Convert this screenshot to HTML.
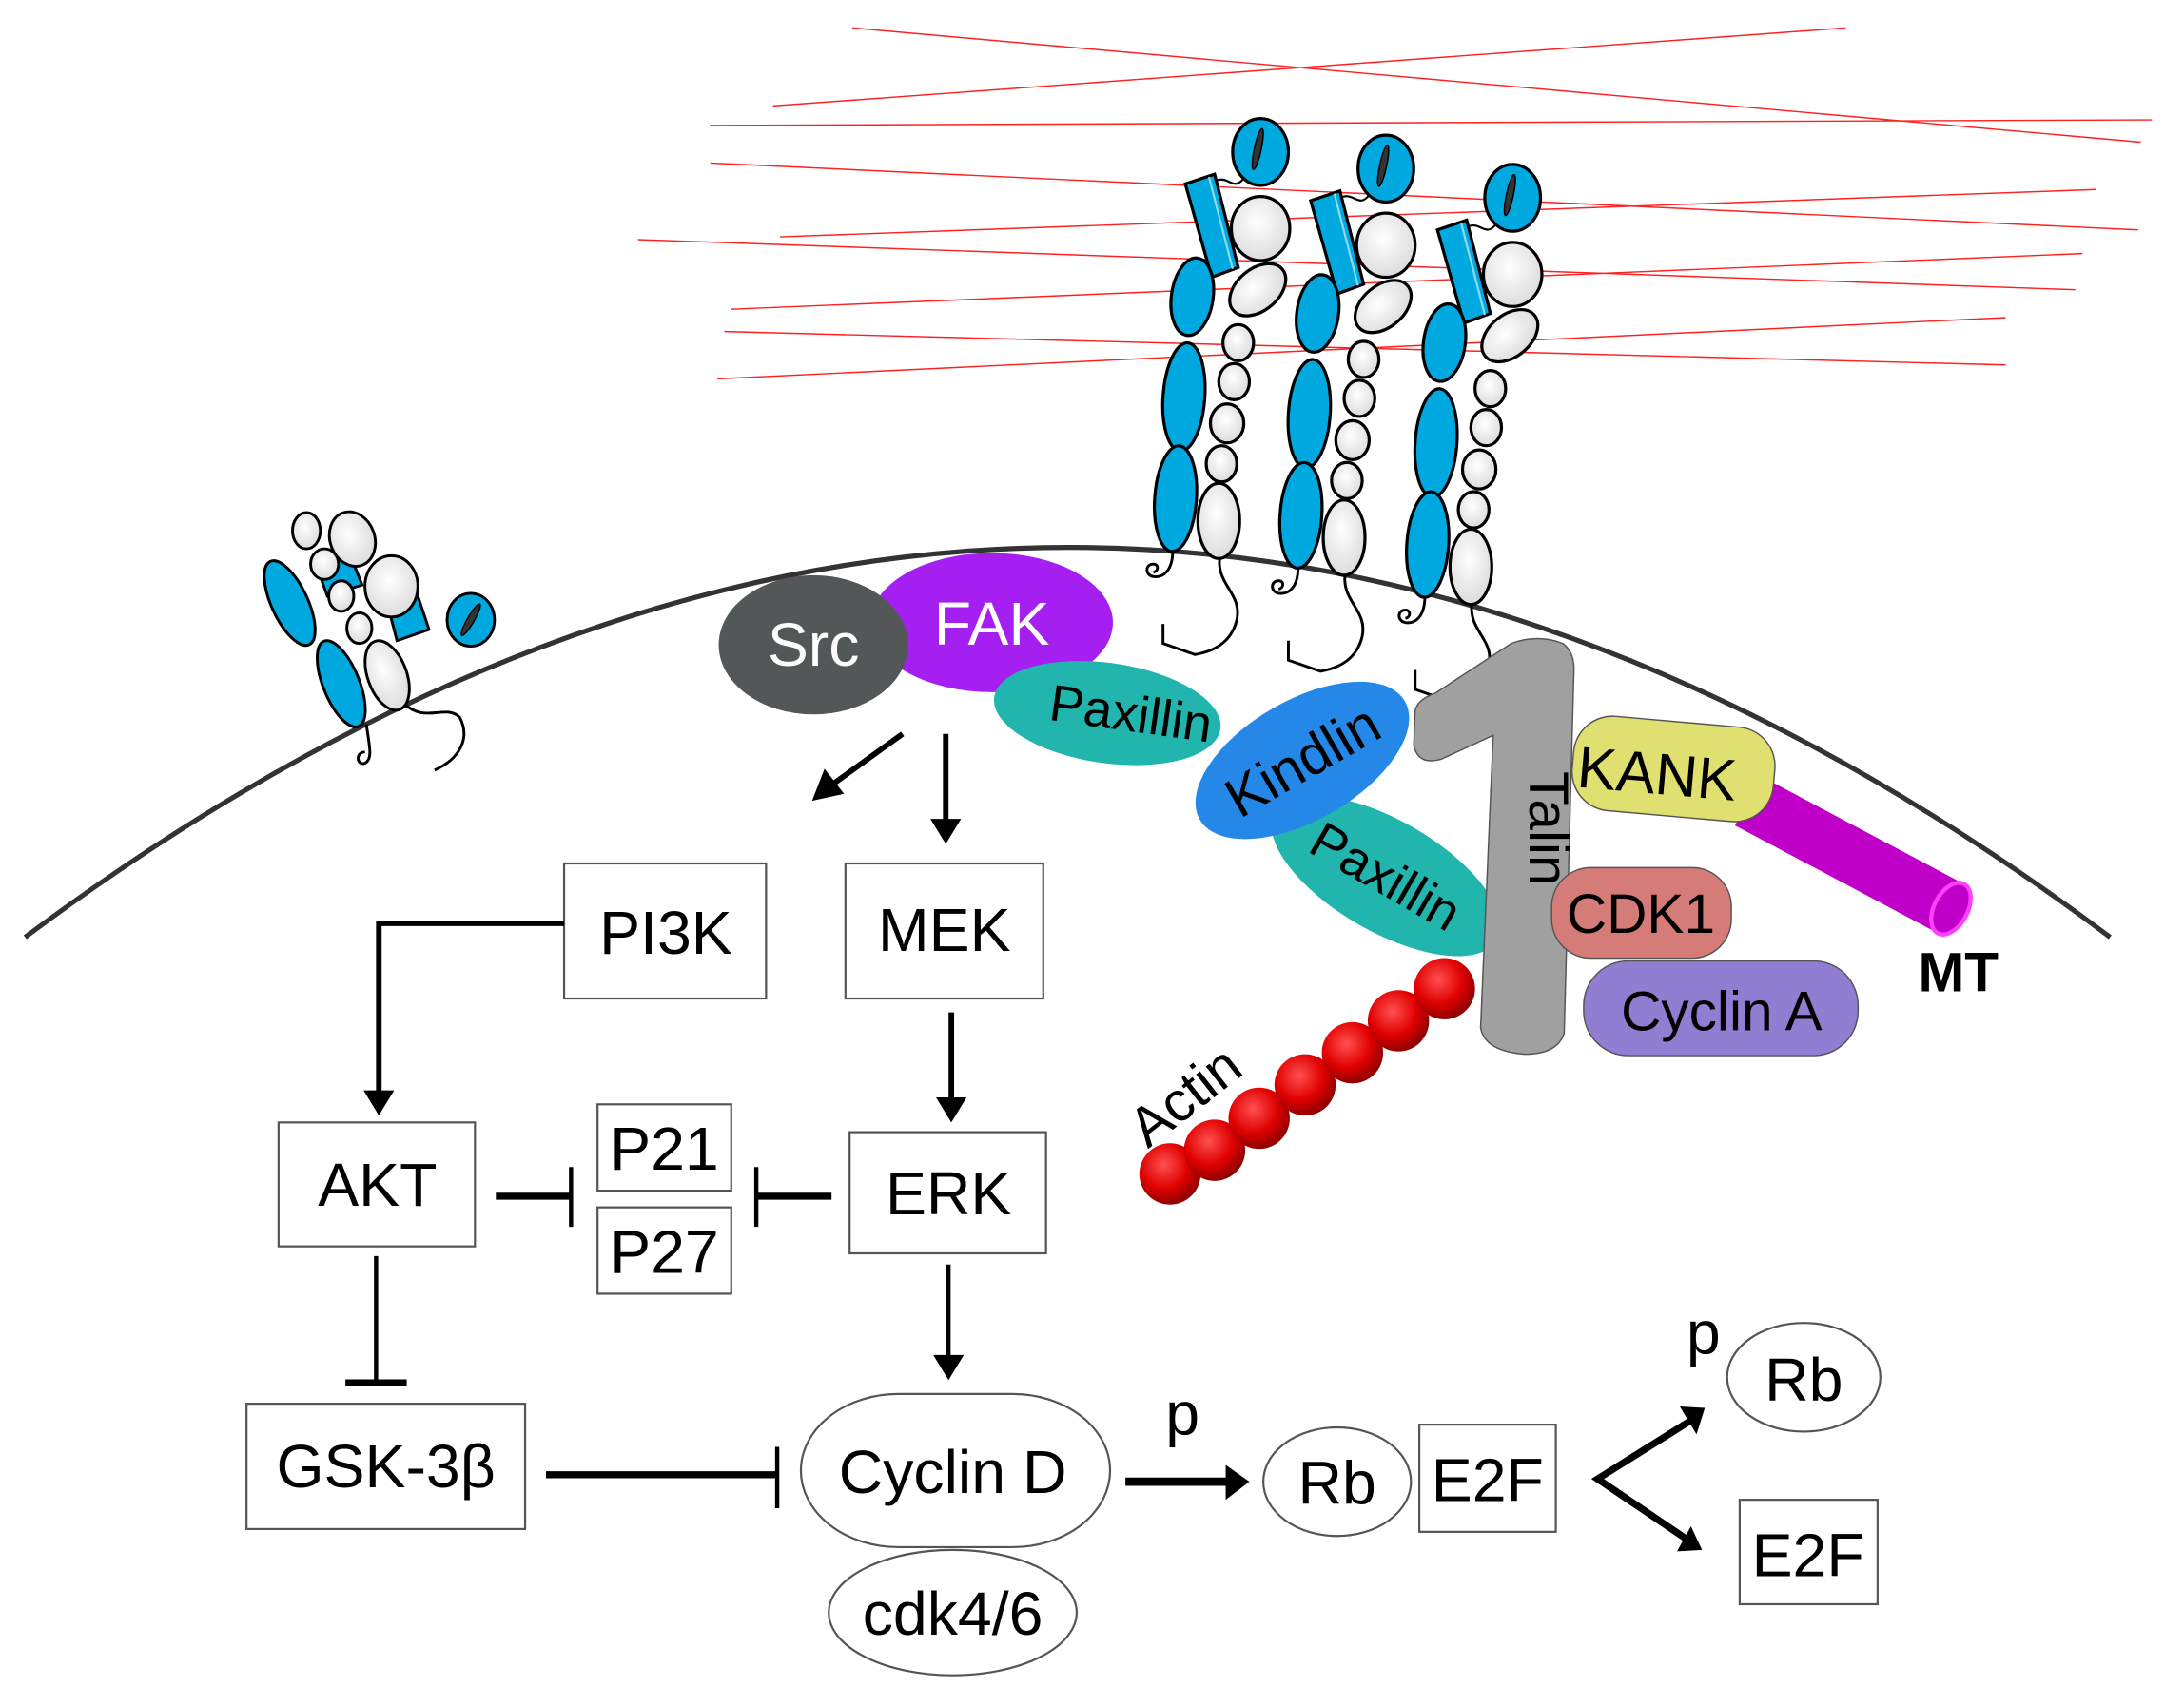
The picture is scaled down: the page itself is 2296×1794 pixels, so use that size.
<!DOCTYPE html>
<html><head><meta charset="utf-8"><style>html,body{margin:0;padding:0;background:#fff}svg{display:block}</style></head>
<body>
<svg width="2296" height="1794" viewBox="0 0 1568 1225" xmlns="http://www.w3.org/2000/svg" font-family="'Liberation Sans', sans-serif">
<defs>
<radialGradient id="wg" cx="45%" cy="40%" r="60%"><stop offset="0" stop-color="#ffffff"/><stop offset="1" stop-color="#dcdcdc"/></radialGradient>
<radialGradient id="rg" cx="40%" cy="35%" r="65%"><stop offset="0" stop-color="#ff5050"/><stop offset="0.6" stop-color="#e00000"/><stop offset="1" stop-color="#900000"/></radialGradient>
<g id="integ" stroke="#000" stroke-width="2.2">
  <path d="M842,395 C842,410 835,415 828,414 C822,413 822,405 828,405 C832,405 832,410 828,411" fill="none" stroke-width="2"/>
  <path d="M876,398 C872,420 892,425 888,445 C884,462 870,468 858,470 L835,462 L835,448" fill="none" stroke-width="2"/>
  <polygon points="851,132 872,125 889,192 870,199" fill="#00a8e0"/>
  <line x1="868" y1="127" x2="885" y2="193" stroke="#8fd8f0" stroke-width="1.5"/>
  <path d="M872,130 C882,125 885,138 893,128" fill="none" stroke-width="1.5"/>
  <ellipse cx="905" cy="109" rx="20" ry="24" fill="#00a8e0"/>
  <ellipse cx="903" cy="107" rx="2.5" ry="15" transform="rotate(12 903 107)" fill="#333" stroke-width="1"/>
  <ellipse cx="905" cy="164" rx="21" ry="23" fill="url(#wg)"/>
  <ellipse cx="903" cy="208" rx="23" ry="15" transform="rotate(-40 903 208)" fill="url(#wg)"/>
  <ellipse cx="889" cy="246" rx="11" ry="13" fill="url(#wg)"/>
  <ellipse cx="886" cy="274" rx="11" ry="13" fill="url(#wg)"/>
  <ellipse cx="881" cy="304" rx="12" ry="14" fill="url(#wg)"/>
  <ellipse cx="877" cy="333" rx="11" ry="13" fill="url(#wg)"/>
  <ellipse cx="875" cy="374" rx="15" ry="27" fill="url(#wg)"/>
  <ellipse cx="856" cy="213" rx="15" ry="28" transform="rotate(8 856 213)" fill="#00a8e0"/>
  <ellipse cx="850" cy="285" rx="15" ry="39" transform="rotate(4 850 285)" fill="#00a8e0"/>
  <ellipse cx="844" cy="358" rx="15" ry="38" transform="rotate(4 844 358)" fill="#00a8e0"/>
</g>
</defs>
<!-- red lines -->
<g stroke="#ff2020" stroke-width="1">
<line x1="612" y1="20" x2="1537" y2="102"/>
<line x1="555" y1="76" x2="1325" y2="20"/>
<line x1="510" y1="90" x2="1545" y2="86"/>
<line x1="510" y1="117" x2="1535" y2="165"/>
<line x1="560" y1="170" x2="1505" y2="136"/>
<line x1="458" y1="172" x2="1490" y2="208"/>
<line x1="525" y1="222" x2="1495" y2="182"/>
<line x1="515" y1="272" x2="1440" y2="228"/>
<line x1="520" y1="238" x2="1440" y2="262"/>
</g>
<!-- membrane -->
<path d="M18,673 Q768,113 1515,673" fill="none" stroke="#333" stroke-width="3.5"/>
<!-- integrins -->
<use href="#integ"/>
<use href="#integ" transform="translate(90,12)"/>
<use href="#integ" transform="translate(181,33)"/>
<!-- left integrin -->
<g stroke="#000" stroke-width="2">
<path d="M263,520 C265,535 268,545 262,548 C256,550 255,540 262,540" fill="none"/>
<path d="M290,505 C305,520 320,505 330,515 C338,530 330,545 312,553" fill="none"/>
<ellipse cx="208" cy="433" rx="13" ry="33" transform="rotate(-25 208 433)" fill="#00a8e0"/>
<polygon points="278,433 300,428 308,452 285,460" fill="#00a8e0"/>
<path d="M225,400 L250,395 L260,420 L235,428Z" fill="#00a8e0"/>
<ellipse cx="338" cy="445" rx="17" ry="19" fill="#00a8e0"/>
<ellipse cx="338" cy="445" rx="2.5" ry="13" transform="rotate(30 338 445)" fill="#333" stroke-width="1"/>
<ellipse cx="220" cy="381" rx="10" ry="13" fill="url(#wg)"/>
<ellipse cx="253" cy="387" rx="16" ry="20" transform="rotate(-20 253 387)" fill="url(#wg)"/>
<ellipse cx="233" cy="405" rx="10" ry="11" fill="url(#wg)"/>
<ellipse cx="281" cy="421" rx="19" ry="22" fill="url(#wg)"/>
<ellipse cx="245" cy="428" rx="9" ry="11" fill="url(#wg)"/>
<ellipse cx="258" cy="451" rx="9" ry="11" fill="url(#wg)"/>
<ellipse cx="278" cy="485" rx="14" ry="26" transform="rotate(-20 278 485)" fill="url(#wg)"/>
<ellipse cx="245" cy="491" rx="13" ry="33" transform="rotate(-22 245 491)" fill="#00a8e0"/>
</g>
<!-- Src FAK -->
<ellipse cx="712" cy="447" rx="87" ry="50" fill="#a51ff0"/>
<ellipse cx="584" cy="463" rx="68" ry="50" fill="#545757"/>
<text x="584" y="478" font-size="44" fill="#fff" text-anchor="middle">Src</text>
<text x="712" y="463" font-size="44" fill="#fff" text-anchor="middle">FAK</text>
<!-- Paxillin / Kindlin -->
<ellipse cx="795" cy="512" rx="82" ry="36" transform="rotate(8 795 512)" fill="#22b5ae"/>
<text x="812" y="525" font-size="37" text-anchor="middle" transform="rotate(8 812 512)">Paxillin</text>
<ellipse cx="995" cy="629" rx="92" ry="40" transform="rotate(30 995 629)" fill="#22b5ae"/>
<text x="995" y="642" font-size="37" text-anchor="middle" transform="rotate(30 995 629)">Paxillin</text>
<ellipse cx="935" cy="546" rx="85" ry="43" transform="rotate(-30 935 546)" fill="#2588e8"/>
<text x="935" y="560" font-size="40" text-anchor="middle" transform="rotate(-30 935 546)">Kindlin</text>
<!-- MT -->
<g transform="rotate(28 1255 575)">
<rect x="1255" y="555" width="165" height="40" fill="#c000c8"/>
<ellipse cx="1420" cy="575" rx="12" ry="20" fill="#c000c8" stroke="#ff40ff" stroke-width="3"/>
</g>
<!-- KANK -->
<rect x="1129" y="518" width="145" height="68" rx="28" transform="rotate(5 1200 552)" fill="#e0e070" stroke="#555" stroke-width="1"/>
<text x="1190" y="570" font-size="42" text-anchor="middle" transform="rotate(5 1190 552)">KANK</text>
<!-- Talin -->
<path d="M1030,498 L1085,462 Q1104,455 1122,462 Q1130,468 1130,480 L1123,742 Q1118,757 1095,757 Q1066,755 1063,738 L1072,528 L1035,545 Q1018,550 1015,535 L1016,510 Q1018,502 1030,498Z" fill="#a0a0a0" stroke="#555" stroke-width="1"/>
<text x="1098" y="595" font-size="40" text-anchor="middle" transform="rotate(90 1098 595)">Talin</text>
<!-- CDK1, Cyclin A -->
<rect x="1114" y="623" width="129" height="65" rx="28" fill="#d67c78" stroke="#555" stroke-width="1"/>
<text x="1178" y="670" font-size="40" text-anchor="middle">CDK1</text>
<rect x="1137" y="690" width="197" height="68" rx="32" fill="#8f7ed2" stroke="#555" stroke-width="1"/>
<text x="1236" y="740" font-size="40" text-anchor="middle">Cyclin A</text>
<text x="1406" y="712" font-size="40" font-weight="bold" text-anchor="middle">MT</text>
<!-- Actin -->
<g fill="url(#rg)">
<circle cx="840" cy="843" r="22"/><circle cx="872" cy="826" r="22"/><circle cx="904" cy="803" r="22"/>
<circle cx="937" cy="779" r="22"/><circle cx="971" cy="756" r="22"/><circle cx="1004" cy="733" r="22"/><circle cx="1037" cy="710" r="22"/>
</g>
<text x="853" y="800" font-size="40" text-anchor="middle" transform="rotate(-38 853 790)">Actin</text>
<!-- boxes -->
<g fill="#fff" stroke="#555" stroke-width="1.5">
<rect x="405" y="620" width="145" height="97"/>
<rect x="607" y="620" width="142" height="97"/>
<rect x="200" y="806" width="141" height="89"/>
<rect x="429" y="793" width="96" height="62"/>
<rect x="429" y="867" width="96" height="62"/>
<rect x="610" y="813" width="141" height="87"/>
<rect x="177" y="1008" width="200" height="90"/>
<rect x="575" y="1001" width="222" height="110" rx="70" ry="55"/>
<ellipse cx="684" cy="1158" rx="89" ry="45"/>
<ellipse cx="960" cy="1064" rx="53" ry="39"/>
<rect x="1019" y="1023" width="98" height="77"/>
<ellipse cx="1295" cy="989" rx="55" ry="39"/>
<rect x="1249" y="1077" width="99" height="75"/>
</g>
<g font-size="44" text-anchor="middle">
<text x="478" y="685">PI3K</text>
<text x="678" y="683">MEK</text>
<text x="271" y="866">AKT</text>
<text x="477" y="840">P21</text>
<text x="477" y="914">P27</text>
<text x="681" y="872">ERK</text>
<text x="277" y="1068">GSK-3β</text>
<text x="684" y="1072">Cyclin D</text>
<text x="684" y="1174">cdk4/6</text>
<text x="960" y="1080">Rb</text>
<text x="1068" y="1078">E2F</text>
<text x="1295" y="1006">Rb</text>
<text x="1298" y="1132">E2F</text>
<text x="849" y="1030">p</text>
<text x="1223" y="972">p</text>
</g>
<!-- arrows -->
<g stroke="#000" stroke-width="4" fill="none">
<line x1="648" y1="527" x2="598" y2="563"/>
<line x1="679" y1="527" x2="679" y2="590"/>
<polyline points="405,663 272,663 272,785"/>
<line x1="683" y1="727" x2="683" y2="790"/>
<line x1="356" y1="859" x2="410" y2="859" stroke-width="5"/>
<line x1="410" y1="838" x2="410" y2="881" stroke-width="3"/>
<line x1="597" y1="859" x2="543" y2="859" stroke-width="5"/>
<line x1="543" y1="838" x2="543" y2="881" stroke-width="3"/>
<line x1="270" y1="902" x2="270" y2="993" stroke-width="3"/>
<line x1="248" y1="993" x2="292" y2="993" stroke-width="5"/>
<line x1="681" y1="908" x2="681" y2="975" stroke-width="3"/>
<line x1="392" y1="1059" x2="558" y2="1059" stroke-width="5"/>
<line x1="558" y1="1039" x2="558" y2="1083" stroke-width="3"/>
<line x1="808" y1="1064" x2="882" y2="1064" stroke-width="6"/>
<polyline points="1214,1020 1147,1062 1212,1106" stroke-width="5"/>
</g>
<g fill="#000">
<polygon points="583,575 592,552 606,570"/>
<polygon points="668,588 690,588 679,606"/>
<polygon points="261,783 283,783 272,801"/>
<polygon points="672,788 694,788 683,806"/>
<polygon points="670,973 692,973 681,991"/>
<polygon points="880,1052 897,1064 880,1077"/>
<polygon points="1206,1010 1224,1011 1218,1030"/>
<polygon points="1204,1114 1222,1113 1214,1096"/>
</g>
</svg>
</body></html>
